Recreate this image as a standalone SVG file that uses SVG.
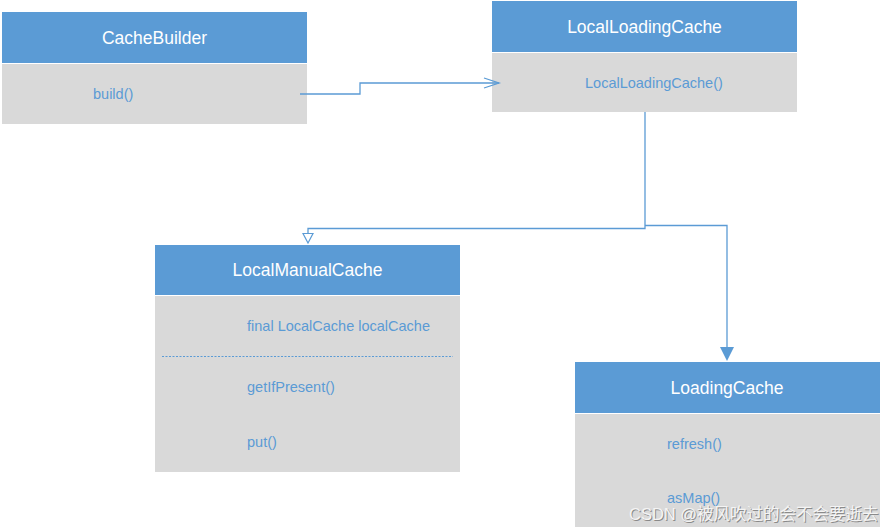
<svg xmlns="http://www.w3.org/2000/svg" width="882" height="529" viewBox="0 0 882 529">
<style>
.hd{fill:#5B9BD5}
.bd{fill:#D9D9D9}
.ht{font-family:"Liberation Sans",Arial,sans-serif;font-size:17.5px;fill:#fff;text-anchor:middle}
.bt{font-family:"Liberation Sans",Arial,sans-serif;font-size:14.5px;fill:#5B9BD5}
.ln{fill:none;stroke:#5B9BD5;stroke-width:1.3}
.wm{font-family:"Liberation Sans","Noto Sans CJK SC",sans-serif;font-size:16.5px}
</style>
<rect width="882" height="529" fill="#fff"/>
<g id="CacheBuilder">
<rect class="hd" x="2" y="12" width="305" height="51"/>
<rect class="bd" x="2" y="64" width="305" height="60"/>
<text class="ht" x="154.5" y="44">CacheBuilder</text>
<text class="bt" x="93" y="99">build()</text>
</g>
<g id="LocalLoadingCache">
<rect class="hd" x="492" y="1" width="305" height="51"/>
<rect class="bd" x="492" y="53" width="305" height="59"/>
<text class="ht" x="644.5" y="33">LocalLoadingCache</text>
<text class="bt" x="585" y="88">LocalLoadingCache()</text>
</g>
<g id="LocalManualCache">
<rect class="hd" x="155" y="245" width="305" height="50"/>
<rect class="bd" x="155" y="296" width="305" height="176"/>
<text class="ht" x="307.5" y="276">LocalManualCache</text>
<text class="bt" x="247" y="331">final LocalCache localCache</text>
<line x1="162" y1="356.5" x2="453" y2="356.5" stroke="#5B9BD5" stroke-width="1" stroke-dasharray="2,1.5"/>
<text class="bt" x="247" y="391.5">getIfPresent()</text>
<text class="bt" x="247" y="446.5">put()</text>
</g>
<g id="LoadingCache">
<rect class="hd" x="575" y="362" width="305" height="51"/>
<rect class="bd" x="575" y="414" width="305" height="113"/>
<text class="ht" x="727" y="394">LoadingCache</text>
<text class="bt" x="667" y="449">refresh()</text>
<text class="bt" x="667" y="503">asMap()</text>
</g>
<g id="connectors">
<polyline class="ln" points="300,94 360,94 360,83 499,83"/>
<polyline class="ln" points="484,78 499,83 484,88"/>
<polyline class="ln" points="645,112 645,228.5 308,228.5 308,233"/>
<polygon points="303,233.5 313,233.5 308,243" fill="#fff" stroke="#5B9BD5" stroke-width="1.2"/>
<polyline class="ln" points="645,225.5 727,225.5 727,348"/>
<polygon points="720,347 734,347 727,361" fill="#5B9BD5"/>
</g>
<g id="watermark">
<text class="wm" x="630" y="521" fill="#8a8a8a">CSDN @被风吹过的会不会要逝去</text>
<text class="wm" x="629" y="520" fill="#f4f4f4">CSDN @被风吹过的会不会要逝去</text>
</g>
</svg>
